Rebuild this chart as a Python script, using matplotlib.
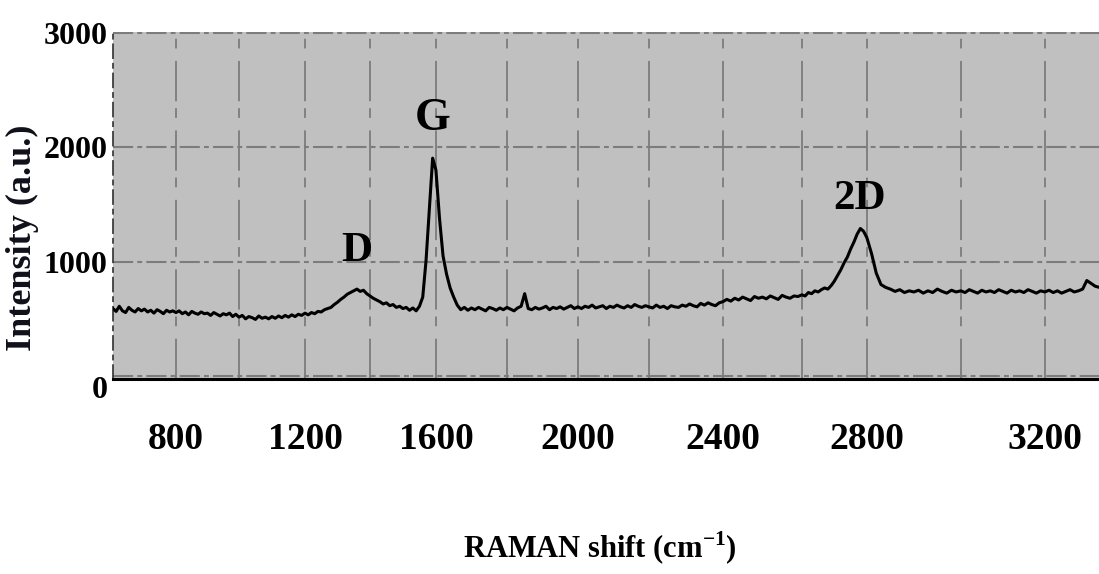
import numpy as np
import matplotlib
matplotlib.use("Agg")
import matplotlib.pyplot as plt

## raman spectrum (10 cm-1 steps from 600)
shift = np.arange(600, 3340, 10)
intensity = [
    590, 565, 610, 570, 555, 600, 575, 560, 590, 570,
    585, 560, 575, 550, 580, 565, 545, 575, 560, 570,
    555, 570, 545, 560, 535, 565, 550, 540, 560, 545,
    550, 530, 555, 540, 525, 545, 535, 550, 520, 540,
    515, 530, 500, 520, 510, 495, 525, 505, 515, 500,
    520, 505, 525, 510, 530, 515, 535, 520, 540, 530,
    550, 535, 555, 545, 565, 560, 580, 590, 600, 625,
    645, 670, 690, 715, 730, 745, 760, 740, 750, 720,
    700, 680, 665, 650, 630, 640, 615, 625, 600, 610,
    590, 600, 575, 595, 570, 610, 690, 1010, 1460, 1905,
    1800, 1380, 1050, 890, 770, 690, 620, 580, 600, 575,
    595, 580, 600, 585, 570, 600, 590, 575, 595, 580,
    600, 585, 570, 595, 610, 720, 590, 580, 600, 585,
    595, 610, 580, 600, 590, 605, 585, 600, 615, 590,
    605, 590, 610, 600, 620, 595, 605, 615, 590, 610,
    600, 620, 605, 595, 615, 600, 625, 610, 600, 615,
    605, 595, 620, 600, 610, 590, 615, 605, 600, 620,
    610, 630, 615, 605, 635, 620, 640, 625, 615, 640,
    650, 670, 655, 680, 665, 690, 675, 660, 695, 680,
    690, 675, 700, 685, 670, 705, 690, 680, 700, 695,
    710, 700, 730, 720, 745, 735, 755, 770, 760, 790,
    830, 880, 930, 990, 1040, 1110, 1170, 1240, 1290, 1265,
    1210, 1070, 900, 800, 775, 760, 740, 755, 730, 745,
    735, 750, 725, 745, 730, 760, 740, 725, 750, 735,
    745, 730, 755, 740, 725, 750, 735, 745, 730, 755,
    740, 725, 750, 735, 745, 730, 755, 740, 725, 745,
    735, 750, 730, 745, 725, 740, 755, 735, 745, 760,
    835, 810, 785, 775,
]

peak_names = ["D", "G", "2D"]
peak_shift = [1360, 1591, 2778]

xticks_major = [800, 1200, 1600, 2000, 2400, 2800, 3200]
xticks_minor = [1000, 1400, 1800, 2200, 2600, 3000]
yticks = [0, 1000, 2000, 3000]

## the x axis of the original picture is unevenly stretched,
## so map wavenumber -> pixel column piecewise
cal_shift = [600, 800, 1000, 1200, 1400, 1600, 1800, 2000, 2200, 2400, 2600, 2800, 3000, 3200, 3400]
cal_px = [113, 176, 239, 305, 370, 436, 507, 578, 649, 723, 802, 867, 961, 1045, 1129]

def fwd(x):
    return np.interp(x, cal_shift, cal_px)

def inv(p):
    return np.interp(p, cal_px, cal_shift)

plt.rcParams["font.family"] = ["Liberation Serif", "DejaVu Serif"]
plt.rcParams["font.weight"] = "bold"
plt.rcParams["lines.scale_dashes"] = False
plt.rcParams["mathtext.fontset"] = "custom"
plt.rcParams["mathtext.rm"] = "Liberation Serif:bold"

fig = plt.figure(figsize=(10.99, 5.74), dpi=100)
ax = fig.add_axes([113/1099, 195/574, 986/1099, 347/574])
ax.set_facecolor("#c0c0c0")

ax.plot(shift, intensity, color="black", lw=2.2, zorder=3)

ax.set_xscale("function", functions=(fwd, inv))
ax.set_xlim(600, 3329)
ax.set_ylim(-26, 3008)

ax.set_xticks(xticks_major)
ax.set_xticks(xticks_minor, minor=True)
ax.set_xticklabels([str(v) for v in xticks_major])
ax.set_yticks(yticks)
ax.set_yticklabels([str(v) for v in yticks])

gcol = "#7c7c7c"
ax.set_axisbelow(True)
ax.xaxis.grid(True, which="both", color=gcol, lw=1.3, linestyle=(0, (29, 9, 7, 5)))
ax.yaxis.grid(True, which="major", color=gcol, lw=1.5, linestyle=(0, (14.5, 3, 3.5, 3)))

ax.tick_params(axis="both", which="both", length=0)
ax.tick_params(axis="x", pad=31, labelsize=27)
ax.tick_params(axis="y", pad=4, labelsize=23)
for t in ax.get_xticklabels() + ax.get_yticklabels():
    t.set_fontweight("bold")
ax.get_yticklabels()[0].set_verticalalignment("top")

ax.spines["top"].set_visible(False)
ax.spines["right"].set_visible(False)
ax.spines["bottom"].set_color("black")
ax.spines["bottom"].set_linewidth(2.2)
ax.spines["left"].set_color("#303030")
ax.spines["left"].set_linewidth(1.2)
ax.spines["left"].set_linestyle((0, (10, 4, 3, 4)))

## peak names
ax.text(peak_shift[0], 1090, peak_names[0], ha="center", va="center", fontsize=31, fontweight="bold")
ax.text(peak_shift[1], 2250, peak_names[1], ha="center", va="center", fontsize=33, fontweight="bold")
ax.text(peak_shift[2], 1552, peak_names[2], ha="center", va="center", fontsize=31, fontweight="bold")

ax.set_ylabel("Intensity (a.u.)", fontsize=26, fontweight="bold", color="#10101a", va="center")
ax.yaxis.set_label_coords(-91/986, 0.406)
fig.text(600/1099, 1 - 548/574, r"RAMAN shift (cm$^{\mathregular{-1}}$)",
         ha="center", va="center", fontsize=22, fontweight="bold")

plt.savefig("out.png", dpi=100)
plt.close()
